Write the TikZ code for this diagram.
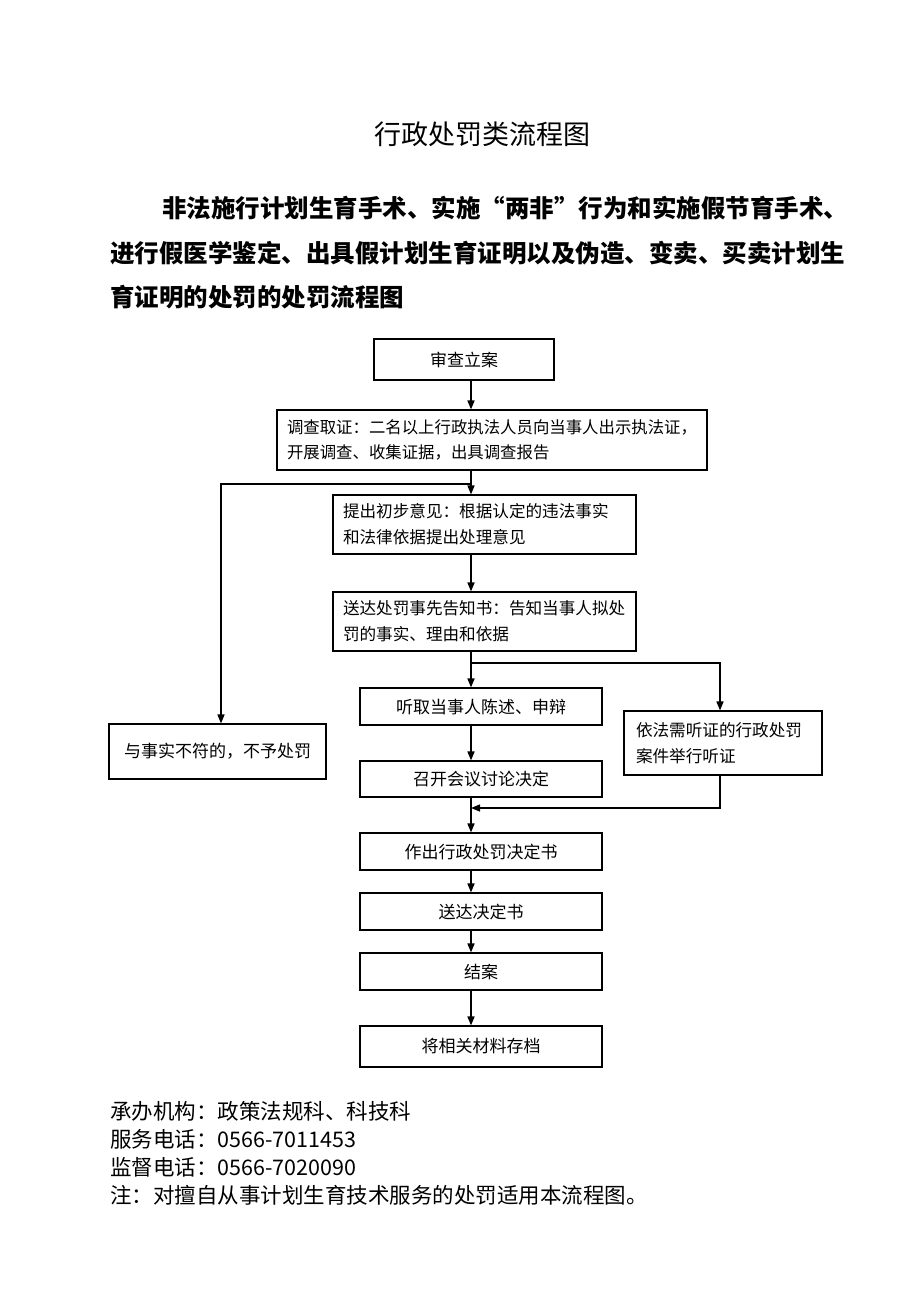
\documentclass[tikz,border=0pt]{standalone}
\usepackage{fontspec}
\setmainfont{Noto Sans CJK SC}
\usetikzlibrary{arrows.meta}

\tikzset{
    stepbox/.style={draw, line width=1.1pt, inner sep=0pt, font=\fontsize{17}{26}\selectfont},
    wordbox/.style={stepbox, align=left, inner xsep=10pt, font=\fontsize{16.6}{26}\selectfont},
    flow/.style={line width=1.5pt, -{Triangle[length=9pt,width=7pt]}},
    footline/.style={anchor=west, inner sep=0pt, font=\fontsize{21.5}{26}\selectfont}
    }

\begin{document}
\begin{tikzpicture}[x=1pt, y=-1pt]
                \useasboundingbox (0,0) rectangle (920,1302);
                % The Heading
                \node (title) [inner sep=0pt, font=\fontsize{27}{30}\selectfont] at (482,134) {行政处罚类流程图};
                \node (sub1) [anchor=west, inner sep=0pt, font=\fontsize{24.5}{30}\selectfont\bfseries] at (162,208) {非法施行计划生育手术、实施“两非”行为和实施假节育手术、};
                \node (sub2) [anchor=west, inner sep=0pt, font=\fontsize{24.5}{30}\selectfont\bfseries] at (110,253) {进行假医学鉴定、出具假计划生育证明以及伪造、变卖、买卖计划生};
                \node (sub3) [anchor=west, inner sep=0pt, font=\fontsize{24.5}{30}\selectfont\bfseries] at (110,297) {育证明的处罚的处罚流程图};
                % The Steps
                \node (check) [stepbox, minimum width=180pt, minimum height=41pt] at (464,359.5) {审查立案};
                \node (probe) [wordbox, text width=410pt, minimum height=60pt, font=\fontsize{16.4}{25}\selectfont] at (492,440)
                    {调查取证：二名以上行政执法人员向当事人出示执法证，\\开展调查、收集证据，出具调查报告};
                \node (advice) [wordbox, text width=283pt, minimum height=59pt] at (484.5,524.5)
                    {提出初步意见：根据认定的违法事实\\和法律依据提出处理意见};
                \node (notice) [wordbox, text width=283pt, minimum height=59pt] at (484.5,621.5)
                    {送达处罚事先告知书：告知当事人拟处\\罚的事实、理由和依据};
                \node (nopenalty) [stepbox, minimum width=217pt, minimum height=55pt] at (217.5,751.5) {与事实不符的，不予处罚};
                \node (hear) [stepbox, minimum width=242pt, minimum height=37pt] at (481,706.5) {听取当事人陈述、申辩};
                \node (hearing) [wordbox, inner xsep=12pt, text width=174pt, minimum height=64pt] at (723,743)
                    {依法需听证的行政处罚\\案件举行听证};
                \node (meet) [stepbox, minimum width=242pt, minimum height=36pt] at (481,779) {召开会议讨论决定};
                \node (decide) [stepbox, minimum width=242pt, minimum height=37pt] at (481,851.5) {作出行政处罚决定书};
                \node (deliver) [stepbox, minimum width=242pt, minimum height=37pt] at (481,911.5) {送达决定书};
                \node (close) [stepbox, minimum width=242pt, minimum height=37pt] at (481,971.5) {结案};
                \node (archive) [stepbox, minimum width=242pt, minimum height=41pt] at (481,1046.5) {将相关材料存档};
                % The Arrows
                \coordinate (spine) at (471,0);
                \coordinate (leftline) at (221,0);
                \coordinate (rightline) at (720,0);
                \coordinate (fork1) at (471,484);
                \coordinate (fork2) at (471,663);
                \coordinate (join) at (471,808);
                \draw[flow] (check.south -| spine) -- (probe.north -| spine);
                \draw[flow] (probe.south -| spine) -- (advice.north -| spine);
                \draw[flow] (fork1) -| (nopenalty.north -| leftline);
                \draw[flow] (advice.south -| spine) -- (notice.north -| spine);
                \draw[flow] (notice.south -| spine) -- (hear.north -| spine);
                \draw[flow] (fork2) -| (hearing.north -| rightline);
                \draw[flow] (hear.south -| spine) -- (meet.north -| spine);
                \draw[flow] (hearing.south -| rightline) |- (join);
                \draw[flow] (meet.south -| spine) -- (decide.north -| spine);
                \draw[flow] (decide.south -| spine) -- (deliver.north -| spine);
                \draw[flow] (deliver.south -| spine) -- (close.north -| spine);
                \draw[flow] (close.south -| spine) -- (archive.north -| spine);
                % The Notes
                \node (office) [footline] at (110,1111) {承办机构：政策法规科、科技科};
                \node (phone) [footline] at (110,1139) {服务电话：0566-7011453};
                \node (watch) [footline] at (110,1167) {监督电话：0566-7020090};
                \node (note) [footline] at (110,1195) {注：对擅自从事计划生育技术服务的处罚适用本流程图。};
            \end{tikzpicture}
\end{document}
